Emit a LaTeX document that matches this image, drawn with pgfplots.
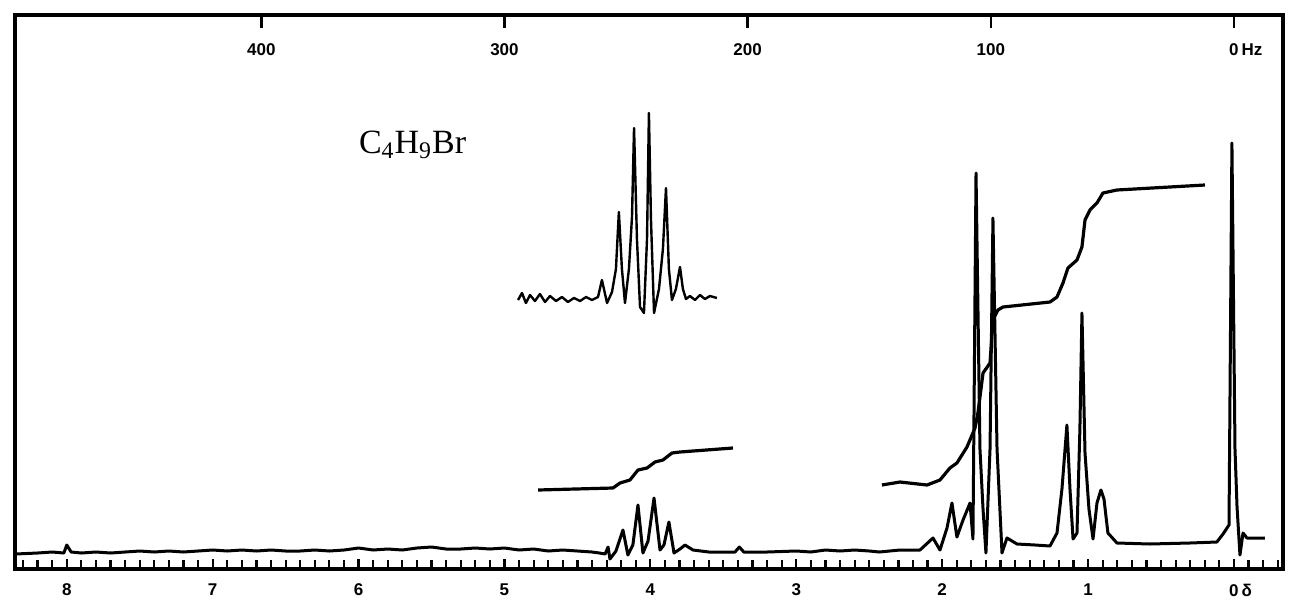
\documentclass[border=0pt]{standalone}
\usepackage{fontspec}
\setmainfont{Liberation Sans}
\newfontfamily\seriffont{Liberation Serif}
\usepackage{pgfplots}
\pgfplotsset{compat=1.18}
\begin{document}
\begin{tikzpicture}
\begin{axis}[name=ax, scale only axis, width=634pt, height=277pt,
  x dir=reverse, xmin=-0.336, xmax=8.355, ymin=0, ymax=554,
  xtick={0,1,2,3,4,5,6,7,8}, xticklabels={0\rlap{\,δ},1,2,3,4,5,6,7,8},
  minor xtick={-0.3,-0.2,-0.1,0.1,0.2,0.3,0.4,0.5,0.6,0.7,0.8,0.9,1.1,1.2,1.3,1.4,1.5,1.6,1.7,1.8,1.9,2.1,2.2,2.3,2.4,2.5,2.6,2.7,2.8,2.9,3.1,3.2,3.3,3.4,3.5,3.6,3.7,3.8,3.9,4.1,4.2,4.3,4.4,4.5,4.6,4.7,4.8,4.9,5.1,5.2,5.3,5.4,5.5,5.6,5.7,5.8,5.9,6.1,6.2,6.3,6.4,6.5,6.6,6.7,6.8,6.9,7.1,7.2,7.3,7.4,7.5,7.6,7.7,7.8,7.9,8.1,8.2,8.3},
  xtick pos=left, xticklabel pos=left, ytick=\empty, tick align=inside,
  major tick length=5pt, minor tick length=4.5pt,
  every tick/.style={black, line width=1.1pt},
  axis line style={line width=1.6pt},
  xticklabel style={font=\fontsize{8.5}{10}\selectfont\bfseries, yshift=-4pt},
]
% main spectrum
\addplot[black, line width=1.5pt, line join=round] coordinates {
(8.35,15) (8.2,16) (8.1,17) (8.02,16) (8.0,24) (7.97,17) (7.9,16) (7.8,17) (7.7,16) (7.6,17)
(7.5,18) (7.4,17) (7.3,18) (7.2,17) (7.1,18) (7.0,19) (6.9,18) (6.8,19) (6.7,18) (6.6,19)
(6.5,18) (6.4,18) (6.3,19) (6.2,18) (6.1,19) (6.0,21) (5.9,19) (5.8,20) (5.7,19) (5.6,21)
(5.5,22) (5.4,20) (5.3,20) (5.2,21) (5.1,20) (5.0,21) (4.9,19) (4.8,20) (4.7,18) (4.6,19)
(4.5,18) (4.4,17) (4.35,16) (4.31,15)
(4.29,22) (4.277,10) (4.236,18) (4.188,39) (4.154,14) (4.12,24) (4.085,64) (4.051,16)
(4.016,28) (3.975,71) (3.934,19) (3.907,24) (3.873,47) (3.838,16) (3.797,20) (3.763,24)
(3.708,19) (3.6,17) (3.5,17) (3.42,17) (3.39,22) (3.36,17) (3.2,17) (3.0,18) (2.9,17)
(2.8,19) (2.7,18) (2.6,19) (2.5,18) (2.43,17) (2.289,19) (2.152,19) (2.063,31) (2.015,19)
(1.967,41) (1.933,66) (1.899,32) (1.857,49) (1.809,66) (1.789,30) (1.768,396) (1.741,120)
(1.72,60) (1.70,16) (1.672,120) (1.652,351) (1.624,120) (1.59,16) (1.556,31) (1.487,25)
(1.364,24) (1.261,23) (1.213,36) (1.179,80) (1.145,144) (1.124,80) (1.103,30) (1.076,36)
(1.056,140) (1.042,256) (1.021,116) (0.994,60) (0.966,30) (0.939,66) (0.912,79) (0.891,70)
(0.864,36) (0.802,26) (0.576,25) (0.302,26) (0.117,27) (0.075,35) (0.034,44) (0.014,426)
(-0.007,120) (-0.021,62) (-0.041,14) (-0.062,36) (-0.089,31) (-0.212,31)
};
% integral 1
\addplot[black, line width=1.6pt, line join=round] coordinates {
(4.77,79) (4.256,81) (4.208,86) (4.14,89) (4.085,99) (4.023,101) (3.968,107) (3.914,109)
(3.852,116) (3.797,117) (3.434,121)
};
% integral 2
\addplot[black, line width=1.6pt, line join=round] coordinates {
(2.413,84) (2.289,87) (2.104,84) (2.015,89) (1.947,101) (1.899,106) (1.83,122) (1.775,141)
(1.755,156) (1.72,196) (1.672,206) (1.652,249) (1.618,259) (1.583,262) (1.261,267) (1.213,272)
(1.172,286) (1.138,301) (1.076,309) (1.042,322) (1.021,349) (0.987,359) (0.939,366)
(0.898,376) (0.802,379) (0.199,384)
};
% inset expansion
\addplot[black, line width=1.2pt, line join=round] coordinates {
(4.907,269) (4.880,276) (4.853,266) (4.825,274) (4.791,268) (4.757,275) (4.722,267)
(4.688,273) (4.647,268) (4.606,272) (4.565,267) (4.524,271) (4.482,268) (4.441,272)
(4.400,269) (4.359,272) (4.332,289) (4.297,266) (4.263,277) (4.236,300) (4.216,357)
(4.195,300) (4.174,266) (4.147,300) (4.126,352) (4.112,441) (4.092,330) (4.071,262)
(4.044,256) (4.023,330) (4.010,456) (3.996,350) (3.975,256) (3.941,280) (3.914,320)
(3.893,381) (3.873,300) (3.852,269) (3.825,280) (3.797,302) (3.777,280) (3.756,270)
(3.729,273) (3.694,269) (3.660,274) (3.626,270) (3.592,273) (3.544,271)
};
\node[font=\seriffont\fontsize{17}{20}\selectfont] at (axis cs:5.63,424) {C\textsubscript{4}H\textsubscript{9}Br};
\end{axis}
\begin{axis}[scale only axis, width=634pt, height=277pt,
  x dir=reverse, xmin=-20.16, xmax=501.3, ymin=0, ymax=554,
  hide y axis, axis x line*=top, tick align=inside,
  xtick={0,100,200,300,400}, xticklabels={0\rlap{\,Hz},100,200,300,400},
  major tick length=6.5pt, every tick/.style={black, line width=1.2pt},
  axis line style={line width=1.6pt},
  xticklabel style={font=\fontsize{8.5}{10}\selectfont\bfseries, anchor=north, yshift=-11pt},
]
\end{axis}
\pgfresetboundingbox
\path ([xshift=-7.5pt,yshift=-16.5pt]ax.south west) rectangle ([xshift=4pt,yshift=7.5pt]ax.north east);
\end{tikzpicture}
\end{document}
